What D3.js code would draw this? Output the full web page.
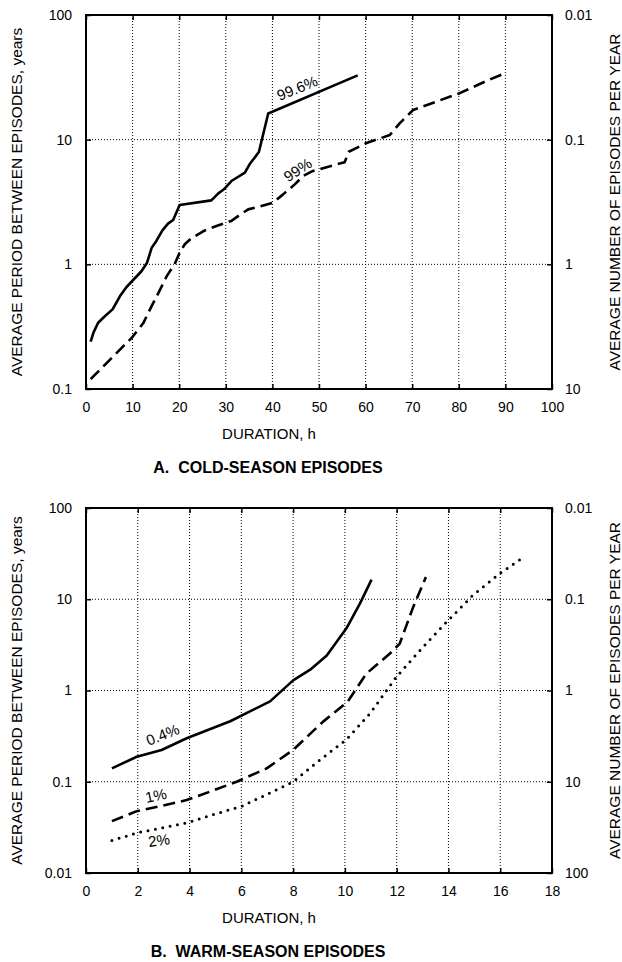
<!DOCTYPE html>
<html>
  <head>
    <title>Episode durations</title>
    <style>
      body { margin: 0; background: #fff; }
      svg text { font-family: "Liberation Sans", Arial, sans-serif; fill: #000; }
      .tick text { font-size: 14px; }
      .grid line { stroke: #000; stroke-width: 1; stroke-dasharray: 1,2; }
    </style>
  </head>
  <body>
    <script src="https://d3js.org/d3.v7.min.js"></script>
    <script>
      // Cold season (panel A): duration in h vs average period in years
      const coldDuration996 = [1, 1.6, 2.6, 4.1, 5.7, 7.3, 8.7, 11.9, 13.1, 14.1, 15.1, 16.4, 17.6, 18.7, 20.1,
        26.9, 28.4, 29.6, 31.2, 34.1, 35.1, 37.1, 39.1, 58.3];
      const coldPeriod996 = [0.24, 0.283, 0.34, 0.385, 0.435, 0.557, 0.658, 0.88, 1.03, 1.36, 1.54, 1.87, 2.12, 2.27, 2.99,
        3.26, 3.71, 4.0, 4.66, 5.43, 6.34, 7.96, 16.2, 32.8];
      const coldDuration99 = [1, 4.1, 7.6, 9.8, 12.3, 13.7, 15.9, 17.3, 19.1, 20.1, 21.2, 22.6, 25.5, 28, 31.2, 33, 34.8,
        36.9, 40.1, 42.3, 44.8, 46.6, 48.7, 55.5, 56.4, 60.2, 65.2, 67.3, 70.2, 80.2, 85.6, 89.9];
      const coldPeriod99 = [0.12, 0.157, 0.213, 0.257, 0.338, 0.433, 0.627, 0.80, 1.02, 1.24, 1.45, 1.62, 1.87, 2.03, 2.23, 2.49, 2.76,
        2.88, 3.12, 3.64, 4.38, 5.11, 5.61, 6.6, 8.0, 9.4, 10.9, 13.5, 17.3, 23.6, 29.2, 34.1];

      // Warm season (panel B)
      const warmDuration04 = [1, 1.96, 2.92, 3.89, 5.57, 7.11, 8.0, 8.66, 9.3, 10.06, 10.58, 11.03];
      const warmPeriod04 = [0.14, 0.188, 0.223, 0.30, 0.46, 0.76, 1.29, 1.69, 2.42, 4.8, 8.97, 16.4];
      const warmDuration1 = [1, 1.96, 2.86, 3.89, 4.79, 5.82, 6.98, 8.0, 9.16, 10.1, 10.83, 11.74, 12.12, 12.64, 13.13];
      const warmPeriod1 = [0.037, 0.0476, 0.054, 0.063, 0.078, 0.1, 0.14, 0.223, 0.456, 0.75, 1.53, 2.54, 3.27, 8.24, 17.5];
      const warmDuration2 = [1, 1.96, 3.89, 4.92, 6.02, 6.98, 8.0, 9.03, 10.06, 10.97, 11.99, 13.02, 13.93, 14.95, 15.98, 16.95];
      const warmPeriod2 = [0.0227, 0.0275, 0.0354, 0.0437, 0.054, 0.0726, 0.1, 0.173, 0.29, 0.56, 1.41, 3.0, 5.64, 11.1, 19.1, 29.6];

      // tick labels
      const coldXTicks = [0, 10, 20, 30, 40, 50, 60, 70, 80, 90, 100];
      const coldYTicks = [0.1, 1, 10, 100];
      const coldRateTicks = [10, 1, 0.1, 0.01];
      const warmXTicks = [0, 2, 4, 6, 8, 10, 12, 14, 16, 18];
      const warmYTicks = [0.01, 0.1, 1, 10, 100];
      const warmRateTicks = [100, 10, 1, 0.1, 0.01];

      const svg = d3.select("body").append("svg")
        .attr("width", 622)
        .attr("height", 962);

      const fmt = d => String(d);

      function drawPanel(opt) {
        const x = d3.scaleLinear().domain(opt.xDomain).range([86, 552]);
        const y = d3.scaleLog().domain(opt.yDomain).range([opt.bottom, opt.top]);
        // right axis is the reciprocal (episodes per year)
        const yRate = d3.scaleLog().domain([1 / opt.yDomain[0], 1 / opt.yDomain[1]]).range([opt.bottom, opt.top]);
        const g = svg.append("g");

        // dotted grid
        const grid = g.append("g").attr("class", "grid");
        grid.selectAll(".gx").data(opt.xTicks.slice(1, -1)).join("line")
          .attr("x1", d => x(d)).attr("x2", d => x(d))
          .attr("y1", opt.top).attr("y2", opt.bottom);
        grid.selectAll(".gy").data(opt.yTicks.slice(1, -1)).join("line")
          .attr("class", "gy")
          .attr("x1", 86).attr("x2", 552)
          .attr("y1", d => y(d)).attr("y2", d => y(d));

        // axes with short inward ticks
        g.append("g").attr("transform", `translate(0,${opt.bottom})`)
          .call(d3.axisBottom(x).tickValues(opt.xTicks).tickFormat(fmt).tickSize(-5).tickPadding(13))
          .call(a => a.select(".domain").remove());
        g.append("g").attr("transform", `translate(0,${opt.top})`)
          .call(d3.axisTop(x).tickValues(opt.xTicks).tickFormat("").tickSize(-5))
          .call(a => a.select(".domain").remove());
        g.append("g").attr("transform", "translate(86,0)")
          .call(d3.axisLeft(y).tickValues(opt.yTicks).tickFormat(fmt).tickSize(-5).tickPadding(14))
          .call(a => a.select(".domain").remove());
        g.append("g").attr("transform", "translate(552,0)")
          .call(d3.axisRight(yRate).tickValues(opt.rateTicks).tickFormat(fmt).tickSize(-5).tickPadding(13))
          .call(a => a.select(".domain").remove());
        g.selectAll(".tick line").attr("stroke-width", 1.5);

        // frame
        g.append("rect")
          .attr("x", 86).attr("y", opt.top)
          .attr("width", 466).attr("height", opt.bottom - opt.top)
          .attr("fill", "none").attr("stroke", "#000").attr("stroke-width", 2);

        // curves
        const line = d3.line().x(d => x(d[0])).y(d => y(d[1]));
        opt.series.forEach(s => {
          g.append("path")
            .datum(d3.zip(s.xs, s.ys))
            .attr("d", line)
            .attr("fill", "none")
            .attr("stroke", "#000")
            .attr("stroke-width", s.width)
            .attr("stroke-linecap", s.cap)
            .attr("stroke-linejoin", "round")
            .attr("stroke-dasharray", s.dash);
        });

        // curve labels
        opt.labels.forEach(l => {
          g.append("text")
            .attr("transform", `translate(${x(l.x)},${y(l.y)}) rotate(${l.angle})`)
            .attr("text-anchor", "middle")
            .attr("dominant-baseline", "central")
            .style("font-size", "15px")
            .text(l.text);
        });

        // axis titles
        const mid = (opt.top + opt.bottom) / 2;
        g.append("text")
          .attr("transform", `translate(22,${mid}) rotate(-90)`)
          .attr("text-anchor", "middle")
          .style("font-size", "15.5px")
          .text("AVERAGE PERIOD BETWEEN EPISODES, years");
        g.append("text")
          .attr("transform", `translate(620,${mid}) rotate(-90)`)
          .attr("text-anchor", "middle")
          .style("font-size", "15.5px")
          .text("AVERAGE NUMBER OF EPISODES PER YEAR");
        g.append("text")
          .attr("x", 269).attr("y", opt.bottom + 50)
          .attr("text-anchor", "middle")
          .style("font-size", "15px")
          .text("DURATION, h");
        g.append("text")
          .attr("x", 268).attr("y", opt.bottom + 84)
          .attr("text-anchor", "middle")
          .style("font-size", "16px")
          .style("font-weight", "bold")
          .style("white-space", "pre")
          .text(opt.title);
      }

      drawPanel({
        top: 15, bottom: 389,
        xDomain: [0, 100], yDomain: [0.1, 100],
        xTicks: coldXTicks, yTicks: coldYTicks, rateTicks: coldRateTicks,
        series: [
          { xs: coldDuration996, ys: coldPeriod996, width: 2.6, cap: "butt", dash: null },
          { xs: coldDuration99, ys: coldPeriod99, width: 2.6, cap: "butt", dash: "12,6" }
        ],
        labels: [
          { text: "99.6%", x: 45.3, y: 26.0, angle: -22 },
          { text: "99%", x: 45.4, y: 5.75, angle: -33 }
        ],
        title: "A.  COLD-SEASON EPISODES"
      });

      drawPanel({
        top: 508, bottom: 873,
        xDomain: [0, 18], yDomain: [0.01, 100],
        xTicks: warmXTicks, yTicks: warmYTicks, rateTicks: warmRateTicks,
        series: [
          { xs: warmDuration04, ys: warmPeriod04, width: 2.6, cap: "butt", dash: null },
          { xs: warmDuration1, ys: warmPeriod1, width: 2.6, cap: "butt", dash: "12,6" },
          { xs: warmDuration2, ys: warmPeriod2, width: 3, cap: "round", dash: "0,7.5" }
        ],
        labels: [
          { text: "0.4%", x: 2.96, y: 0.33, angle: -22 },
          { text: "1%", x: 2.7, y: 0.071, angle: -12 },
          { text: "2%", x: 2.82, y: 0.0229, angle: -8 }
        ],
        title: "B.  WARM-SEASON EPISODES"
      });
    </script>
  </body>
</html>
